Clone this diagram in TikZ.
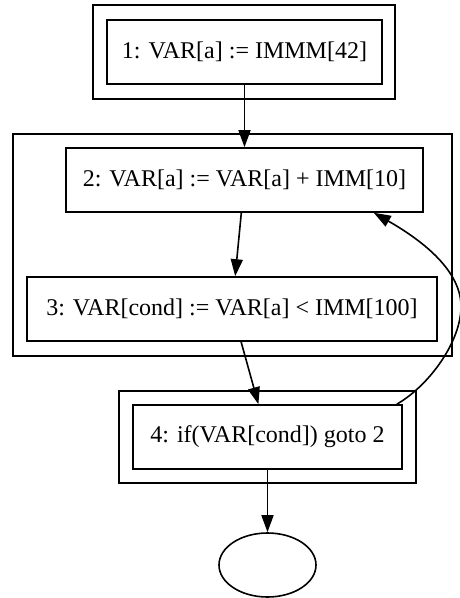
\documentclass[tikz,border=0pt]{standalone}
\usepackage{fontspec}
\setmainfont{Liberation Serif}
\usetikzlibrary{arrows.meta,shapes.geometric}
\tikzset{
  instr/.style={draw, rectangle, line width=1.6pt, inner sep=0pt,
    minimum height=64pt, font=\fontsize{24}{28}\selectfont},
  cluster/.style={draw, line width=1.6pt},
  flow/.style={draw, line width=1.6pt, -{Triangle[length=17pt,width=12pt]}},
}
\begin{document}
\begin{tikzpicture}[x=1pt, y=-1pt]
  \useasboundingbox (0,0) rectangle (459,598);

  % clusters around the basic blocks
  \draw[cluster] (93,5) rectangle (395,99);
  \draw[cluster] (13,134) rectangle (452,356);
  \draw[cluster] (119,391) rectangle (416,483);

  % instructions
  \node[instr, minimum width=275pt] (n1) at (244.5,52) {1: VAR[a] := IMMM[42]};
  \node[instr, minimum width=357pt] (n2) at (244.5,180) {2: VAR[a] := VAR[a] + IMM[10]};
  \node[instr, minimum width=410pt] (n3) at (232,309) {3: VAR[cond] := VAR[a] < IMM[100]};
  \node[instr, minimum width=269pt] (n4) at (267.5,437) {4: if(VAR[cond]) goto 2};
  \node[draw, ellipse, line width=1.6pt, minimum width=97pt, minimum height=64pt,
        inner sep=0pt] (exit) at (267.5,565) {};

  % control flow
  \draw[flow] (n1) -- (n2);
  \draw[flow] (n2) -- (n3);
  \draw[flow] (n3) -- (n4);
  \draw[flow] (n4) -- (exit);

  % back edge of the loop
  \coordinate (loopstart) at ([xshift=-6pt]n4.north east);
  \coordinate (loopend) at ([xshift=-50pt]n2.south east);
  \draw[flow] (loopstart) .. controls (430,385) and (462,340) .. (461,305)
    .. controls (460,268) and (418,238) .. (loopend);
\end{tikzpicture}
\end{document}
